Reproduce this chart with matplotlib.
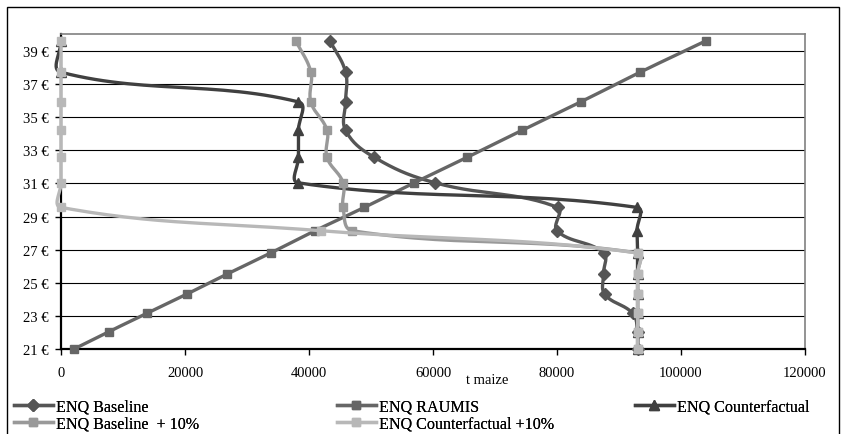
import numpy as np
import matplotlib
matplotlib.use("Agg")
import matplotlib.pyplot as plt
from matplotlib.lines import Line2D
from matplotlib.patches import Rectangle

plt.rcParams['font.family'] = ['Liberation Serif', 'DejaVu Serif']

# ---- data ----
prices = [21.00, 22.05, 23.15, 24.31, 25.53, 26.80, 28.14, 29.55, 31.03, 32.58, 34.21, 35.92, 37.71, 39.60]
enq_baseline = [93000, 93000, 92200, 87700, 87500, 87500, 80000, 80100, 60400, 50500, 45900, 45900, 45900, 43400]
enq_raumis = [2100, 7740, 13820, 20270, 26820, 33820, 40970, 48920, 56940, 65530, 74400, 83820, 93390, 103980]
enq_counterfactual = [93000, 93000, 93000, 93000, 93000, 93000, 92900, 92900, 38300, 38300, 38300, 38300, 0, 0]
enq_baseline_10 = [93000, 93000, 93000, 93000, 93000, 93000, 47000, 45500, 45500, 42900, 42900, 40300, 40300, 37900]
enq_counterfactual_10 = [93000, 93000, 93000, 93000, 93000, 93000, 42000, 0, 0, 0, 0, 0, 0, 0]

series_names = ["ENQ Baseline", "ENQ RAUMIS", "ENQ Counterfactual",
                "ENQ Baseline  + 10%", "ENQ Counterfactual +10%"]
x_ticks = [0, 20000, 40000, 60000, 80000, 100000, 120000]
y_ticks = [21, 23, 25, 27, 29, 31, 33, 35, 37, 39]
y_tick_labels = ["21 €", "23 €", "25 €", "27 €", "29 €", "31 €", "33 €", "35 €", "37 €", "39 €"]
x_label = "t maize"

W, H = 844, 435
fig = plt.figure(figsize=(W / 100, H / 100), dpi=100)

# outer chart border
fig.add_artist(Rectangle((7 / W, -0.05), (839 - 7) / W, (H - 8) / H + 0.05,
                         transform=fig.transFigure, fill=False, ec='black', lw=1.0))

L, R, T, B = 61, 805, 35, 350
ax = fig.add_axes([L / W, (H - B) / H, (R - L) / W, (B - T) / H])
ax.set_xlim(0, 120000)
ax.set_ylim(21, 40.02)

ax.set_xticks(x_ticks)
ax.set_xticklabels([str(v) for v in x_ticks], fontsize=10.5)
ax.set_yticks(y_ticks)
ax.set_yticklabels(y_tick_labels, fontsize=10.5)
ax.tick_params(axis='both', direction='out', length=4, width=1, color='black')
ax.tick_params(axis='x', pad=8)
ax.tick_params(axis='y', pad=5)
ax.yaxis.grid(True, color='black', lw=0.8)
ax.set_axisbelow(True)
for s in ['top', 'right']:
    ax.spines[s].set_color('#808080')
    ax.spines[s].set_linewidth(1.2)
for s in ['left', 'bottom']:
    ax.spines[s].set_color('black')
    ax.spines[s].set_linewidth(1.6)


def smooth(xs, ys, n=30, k=0.4):
    """Excel-like smoothed line (proportional Bezier) computed in display space."""
    pts = ax.transData.transform(np.column_stack([xs, ys]))
    out = []
    m = len(pts)
    for i in range(m - 1):
        p0 = pts[i - 1] if i > 0 else pts[i]
        p1 = pts[i]
        p2 = pts[i + 1]
        p3 = pts[i + 2] if i + 2 < m else pts[i + 1]
        d01 = np.hypot(*(p1 - p0))
        d12 = np.hypot(*(p2 - p1))
        d23 = np.hypot(*(p3 - p2))
        f1 = d12 / (d01 + d12) if d01 + d12 > 0 else 0
        f2 = d12 / (d12 + d23) if d12 + d23 > 0 else 0
        c1 = p1 + (p2 - p0) * f1 * k
        c2 = p2 - (p3 - p1) * f2 * k
        t = np.linspace(0, 1, n)[:, None]
        seg = ((1 - t) ** 3) * p1 + 3 * ((1 - t) ** 2) * t * c1 + 3 * (1 - t) * t ** 2 * c2 + t ** 3 * p2
        out.append(seg if i == 0 else seg[1:])
    out = np.vstack(out)
    d = ax.transData.inverted().transform(out)
    return d[:, 0], d[:, 1]


styles = [
    (enq_baseline, '#555555', 'D', 6.4),
    (enq_raumis, '#666666', 's', 6.2),
    (enq_counterfactual, '#404040', '^', 6.8),
    (enq_baseline_10, '#999999', 's', 6.2),
    (enq_counterfactual_10, '#b8b8b8', 's', 6.2),
]
handles = []
for (xs, col, mk, ms), name in zip(styles, series_names):
    sx, sy = smooth(xs, prices)
    ax.plot(sx, sy, color=col, lw=2.4, solid_capstyle='round', zorder=3, clip_on=False)
    ax.plot(xs, prices, linestyle='none', marker=mk, ms=ms, color=col, mec=col, zorder=3, clip_on=False)
    handles.append(Line2D([], [], color=col, lw=2.4, marker=mk, ms=ms, mec=col))

fig.text(487 / W, 1 - 381 / H, x_label, fontsize=10.5, ha='center', va='center')

# legend: three columns
cols = [([0, 3], 14), ([1, 4], 337), ([2], 635)]
for idx, xpx in cols:
    lg = fig.legend([handles[i] for i in idx], [series_names[i] for i in idx],
                    loc='upper left', bbox_to_anchor=(xpx / W, 1 - 400 / H),
                    frameon=False, fontsize=11.6, handlelength=2.4, handletextpad=0.2,
                    labelspacing=0.02, borderaxespad=0, borderpad=0)
    fig.add_artist(lg)

fig.savefig("out.png", dpi=100)
